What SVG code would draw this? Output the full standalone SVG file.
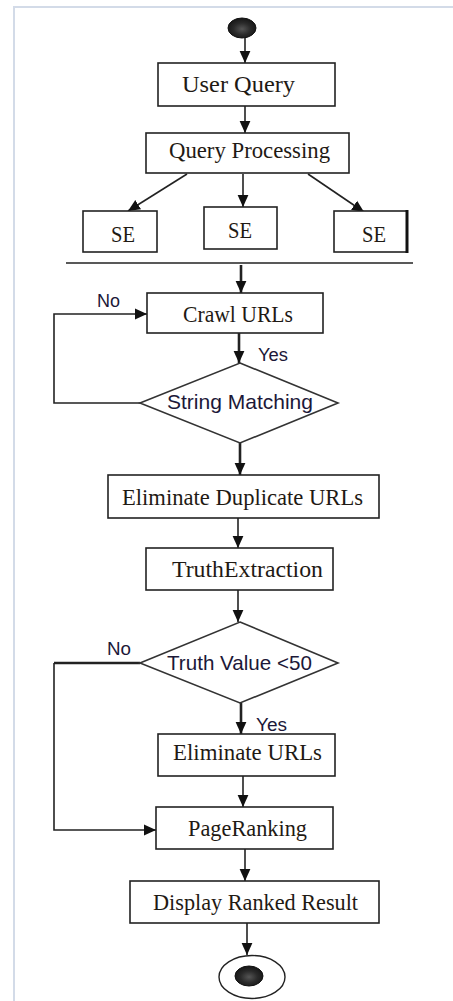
<svg xmlns="http://www.w3.org/2000/svg" width="453" height="1001" viewBox="0 0 453 1001">
<style>
.box{fill:#fff;stroke:#222;stroke-width:1.6}
.dia{fill:#fff;stroke:#333;stroke-width:1.6}
.lbl{font-family:"Liberation Serif","Times New Roman",serif;font-size:24px;fill:#1f1a14;text-anchor:middle}
.dl{font-family:"Liberation Sans",Arial,sans-serif;font-size:21px;fill:#1c1838;text-anchor:middle}
.yn{font-family:"Liberation Sans",Arial,sans-serif;font-size:18px;fill:#1c1838}
.c{fill:none;stroke:#222;stroke-width:1.6}
.ct{fill:none;stroke:#222;stroke-width:2.6}
</style>
<defs>
<marker id="ah" markerUnits="userSpaceOnUse" markerWidth="12" markerHeight="12" viewBox="0 0 10 10" refX="10" refY="5" orient="auto">
<path d="M0,0.5 L10,5 L0,9.5 Z" fill="#111"/>
</marker>
<radialGradient id="g" cx="0.5" cy="0.55" r="0.6">
<stop offset="0" stop-color="#555"/>
<stop offset="0.5" stop-color="#2a2a2a"/>
<stop offset="1" stop-color="#111"/>
</radialGradient>
</defs>
<rect x="0" y="0" width="453" height="1001" fill="#fff"/>
<path d="M14,1001 V7 H453" fill="none" stroke="#d3dbe8" stroke-width="2"/>

<g id="connectors">
<line class="c" x1="245" y1="38" x2="245" y2="63" marker-end="url(#ah)"/>
<line class="c" x1="245" y1="106" x2="245" y2="133" marker-end="url(#ah)"/>
<line class="c" x1="187" y1="174" x2="128" y2="211" marker-end="url(#ah)"/>
<line class="c" x1="243" y1="174" x2="243" y2="207" marker-end="url(#ah)"/>
<line class="c" x1="308" y1="174" x2="364" y2="212" marker-end="url(#ah)"/>
<line class="c" x1="66" y1="263" x2="413" y2="263"/>
<line class="ct" x1="241" y1="265" x2="241" y2="293" stroke="#555" marker-end="url(#ah)"/>
<line class="ct" x1="239" y1="333" x2="239" y2="363" marker-end="url(#ah)"/>
<polyline class="c" points="140,403 54,403 54,314 147,314" marker-end="url(#ah)"/>
<line class="ct" x1="240" y1="443" x2="240" y2="475" marker-end="url(#ah)"/>
<line class="c" x1="238" y1="518" x2="238" y2="548" marker-end="url(#ah)"/>
<line class="c" x1="238" y1="590" x2="238" y2="622" marker-end="url(#ah)"/>
<line class="ct" x1="140" y1="663" x2="54" y2="663" stroke="#111" stroke-width="3"/>
<polyline class="c" points="54,663 54,830 156,830" marker-end="url(#ah)"/>
<line class="ct" x1="241" y1="703" x2="241" y2="734" stroke="#555" marker-end="url(#ah)"/>
<line class="c" x1="243" y1="776" x2="243" y2="807" marker-end="url(#ah)"/>
<line class="c" x1="245" y1="849" x2="245" y2="881" marker-end="url(#ah)"/>
<line class="c" x1="247" y1="923" x2="247" y2="955" marker-end="url(#ah)"/>
<text class="yn" x="97" y="307" textLength="23" lengthAdjust="spacingAndGlyphs">No</text>
<text class="yn" x="258" y="361" textLength="30" lengthAdjust="spacingAndGlyphs">Yes</text>
<text class="yn" x="107" y="655" textLength="24" lengthAdjust="spacingAndGlyphs">No</text>
<text class="yn" x="256" y="731" textLength="31" lengthAdjust="spacingAndGlyphs">Yes</text>
</g>

<g id="start">
<ellipse cx="242" cy="28" rx="14" ry="10" fill="url(#g)" stroke="#111" stroke-width="1"/>
</g>
<g id="user-query">
<rect class="box" x="158" y="63" width="177" height="43"/>
<text class="lbl" x="238.5" y="92" textLength="113" lengthAdjust="spacingAndGlyphs">User Query</text>
</g>
<g id="query-processing">
<rect class="box" x="146" y="133" width="203" height="40"/>
<text class="lbl" x="249.5" y="158" textLength="161" lengthAdjust="spacingAndGlyphs">Query Processing</text>
</g>
<g id="se-left">
<rect class="box" x="83" y="211" width="74" height="41"/>
<text class="lbl" x="123" y="242" font-size="22" textLength="24" lengthAdjust="spacingAndGlyphs">SE</text>
</g>
<g id="se-middle">
<rect class="box" x="204" y="207" width="73" height="42"/>
<text class="lbl" x="240" y="238" font-size="22" textLength="24" lengthAdjust="spacingAndGlyphs">SE</text>
</g>
<g id="se-right">
<rect class="box" x="334" y="211" width="73" height="41"/>
<line x1="407" y1="210" x2="407" y2="253" stroke="#111" stroke-width="3"/>
<text class="lbl" x="374" y="242" font-size="22" textLength="24" lengthAdjust="spacingAndGlyphs">SE</text>
</g>
<g id="crawl-urls">
<rect class="box" x="147" y="293" width="176" height="40"/>
<text class="lbl" x="238" y="322" textLength="110" lengthAdjust="spacingAndGlyphs">Crawl URLs</text>
</g>
<g id="string-matching">
<polygon class="dia" points="240,363 338,403 240,443 140,403"/>
<text class="dl" x="240" y="409" textLength="146" lengthAdjust="spacingAndGlyphs">String Matching</text>
</g>
<g id="eliminate-duplicate">
<rect class="box" x="108" y="475" width="271" height="43"/>
<text class="lbl" x="242.5" y="505" textLength="241" lengthAdjust="spacingAndGlyphs">Eliminate Duplicate URLs</text>
</g>
<g id="truth-extraction">
<rect class="box" x="146" y="548" width="187" height="42"/>
<text class="lbl" x="247.5" y="577" textLength="151" lengthAdjust="spacingAndGlyphs">TruthExtraction</text>
</g>
<g id="truth-value">
<polygon class="dia" points="240,622 338,663 240,703 140,663"/>
<text class="dl" x="239.5" y="670" textLength="145" lengthAdjust="spacingAndGlyphs">Truth Value &lt;50</text>
</g>
<g id="eliminate-urls">
<rect class="box" x="158" y="734" width="177" height="42"/>
<text class="lbl" x="247.5" y="760" textLength="149" lengthAdjust="spacingAndGlyphs">Eliminate URLs</text>
</g>
<g id="page-ranking">
<rect class="box" x="156" y="807" width="177" height="42"/>
<text class="lbl" x="247.5" y="836" textLength="119" lengthAdjust="spacingAndGlyphs">PageRanking</text>
</g>
<g id="display-ranked-result">
<rect class="box" x="130" y="881" width="249" height="42"/>
<text class="lbl" x="255.5" y="910" textLength="205" lengthAdjust="spacingAndGlyphs">Display Ranked Result</text>
</g>
<g id="end">
<ellipse cx="252" cy="977" rx="33" ry="21.5" fill="#fff" stroke="#222" stroke-width="1.4"/>
<ellipse cx="249" cy="976" rx="14" ry="10" fill="url(#g)" stroke="#111" stroke-width="1"/>
</g>
</svg>
